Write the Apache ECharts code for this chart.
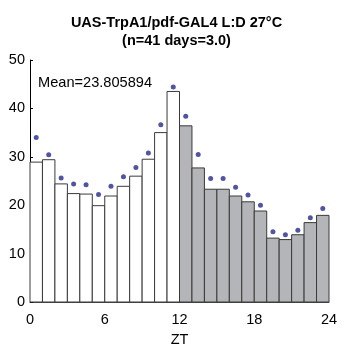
<!DOCTYPE html>
<html>
<head>
<meta charset="utf-8">
<script src="https://cdn.jsdelivr.net/npm/echarts@6/dist/echarts.min.js"></script>
<style>
  html, body { margin: 0; padding: 0; background: #fff; }
  #chart { width: 353px; height: 354px; }
</style>
</head>
<body>
<div id="chart"></div>
<script>
// Hourly activity (ZT 0..24), light phase 0-12, dark phase 12-24
const hours = [0,1,2,3,4,5,6,7,8,9,10,11,12,13,14,15,16,17,18,19,20,21,22,23];
const activity = [28.9,29.4,24.4,22.4,22.3,19.9,21.9,23.9,26.0,29.5,35.0,43.5,
                  36.4,27.7,23.3,23.3,21.9,20.7,18.8,13.2,12.9,13.9,16.4,17.9];
// Upper error (mean + SEM) markers
const upper = [34.0,30.4,25.6,24.4,24.2,22.2,23.9,25.9,27.8,30.8,36.6,44.4,
               38.4,30.5,25.5,25.5,23.7,22.1,20.0,14.5,13.9,14.8,17.4,19.3];
const xTicks = [0, 6, 12, 18, 24];
const yTicks = [0, 10, 20, 30, 40, 50];
const titleLines = ['UAS-TrpA1/pdf-GAL4 L:D 27°C', '(n=41 days=3.0)'];
const meanText = 'Mean=23.805894';

const FONT = 'Liberation Sans, Arial, Helvetica, sans-serif';

const barData = hours.map((h, i) => [h, h + 1, activity[i]]);
const dotData = hours.map((h, i) => [h + 0.5, upper[i]]);

const chart = echarts.init(document.getElementById('chart'), null, { renderer: 'canvas' });
chart.setOption({
  animation: false,
  backgroundColor: '#ffffff',
  title: {
    text: titleLines.join('\n'),
    left: 'center',
    top: 9,
    textStyle: { fontFamily: FONT, fontWeight: 'bold', fontSize: 14.5, color: '#000', lineHeight: 18 }
  },
  graphic: [{
    type: 'text',
    left: 38,
    top: 75,
    style: { text: meanText, fontFamily: FONT, fontSize: 14.6, fill: '#000' }
  }],
  grid: { left: 30, right: 24, top: 60, bottom: 52 },
  xAxis: {
    type: 'value',
    min: 0, max: 24, interval: 6,
    name: 'ZT',
    nameLocation: 'middle',
    nameGap: 30,
    nameTextStyle: { fontFamily: FONT, fontSize: 14.5, color: '#000' },
    axisLine: { show: true, onZero: false, lineStyle: { color: '#444', width: 1 } },
    axisTick: { show: false },
    splitLine: { show: false },
    axisLabel: {
      fontFamily: FONT, fontSize: 14.5, color: '#000', margin: 10,
      formatter: v => (xTicks.indexOf(v) >= 0 ? String(v) : '')
    }
  },
  yAxis: {
    type: 'value',
    min: 0, max: 50, interval: 10,
    axisLine: { show: true, lineStyle: { color: '#000', width: 1 } },
    axisTick: { show: true, inside: true, length: 3, lineStyle: { color: '#000' } },
    splitLine: { show: false },
    axisLabel: {
      fontFamily: FONT, fontSize: 14.5, color: '#000', margin: 5,
      formatter: v => (yTicks.indexOf(v) >= 0 ? String(v) : '')
    }
  },
  series: [
    {
      type: 'custom',
      data: barData,
      encode: { x: [0, 1], y: 2 },
      renderItem: function (params, api) {
        const x0 = api.value(0), x1 = api.value(1), v = api.value(2);
        const p0 = api.coord([x0, 0]);
        const p1 = api.coord([x1, v]);
        return {
          type: 'rect',
          shape: { x: p0[0], y: p1[1], width: p1[0] - p0[0], height: p0[1] - p1[1] },
          style: {
            fill: x0 >= 12 ? '#b4b5b8' : '#ffffff',
            stroke: '#3a3a3a',
            lineWidth: 1
          }
        };
      },
      z: 2
    },
    {
      type: 'scatter',
      data: dotData,
      symbol: 'circle',
      symbolSize: 5,
      itemStyle: { color: '#252a88' },
      z: 3
    }
  ]
});
</script>
</body>
</html>
